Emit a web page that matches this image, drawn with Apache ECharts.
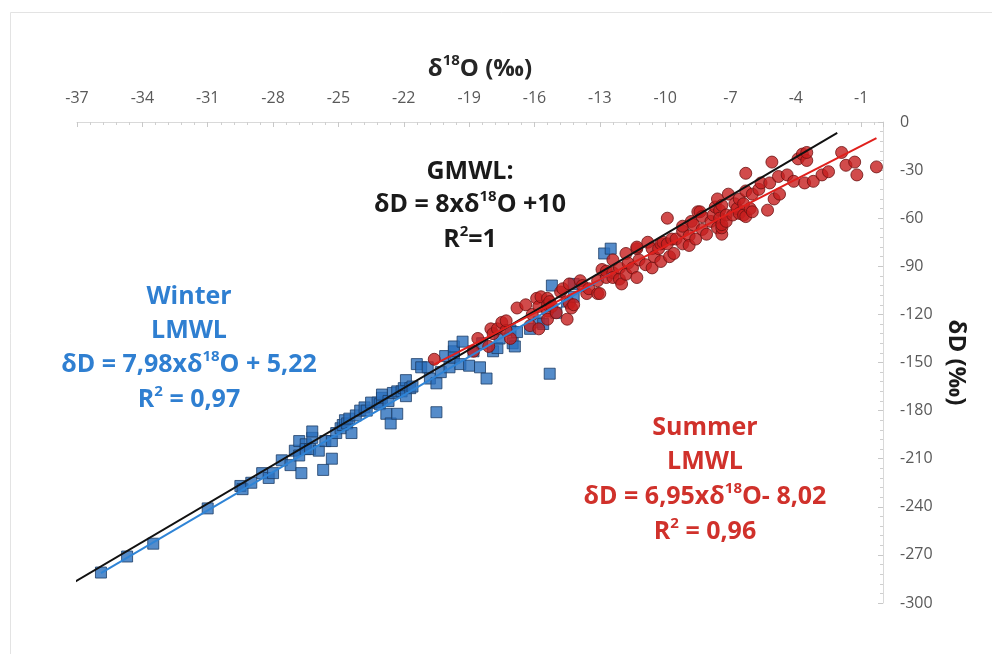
<!DOCTYPE html>
<html><head><meta charset="utf-8">
<script src="https://cdn.jsdelivr.net/npm/echarts@6/dist/echarts.min.js"></script>
<style>html,body{margin:0;padding:0;background:#fff}#c{width:992px;height:654px}</style>
</head><body><div id="c"></div>
<script>
// ---- data (δ18O, δD) ----
const winter = [[-35.9,-281],[-34.7,-271],[-33.5,-263],[-31.0,-241],[-29.5,-227],[-29.4,-229],[-29.0,-225],[-28.5,-219],[-28.2,-222],[-28.0,-219],[-27.6,-211],[-27.2,-214],[-27.0,-205],[-26.8,-208],[-26.8,-199],[-26.7,-219],[-26.5,-201],[-26.5,-204],[-26.3,-204],[-26.2,-197],[-26.2,-193],[-25.9,-205],[-25.7,-217],[-25.6,-199],[-25.3,-210],[-25.3,-199],[-25.1,-194],[-24.9,-191],[-24.8,-189],[-24.7,-186],[-24.6,-188],[-24.5,-185],[-24.4,-194],[-24.2,-183],[-24.0,-180],[-23.8,-178],[-23.7,-180],[-23.5,-175],[-23.2,-175],[-23.1,-176],[-23.0,-172],[-23.0,-170],[-22.8,-182],[-22.7,-174],[-22.6,-188],[-22.5,-169],[-22.3,-182],[-22.3,-168],[-22.1,-168],[-22.0,-166],[-21.9,-161],[-21.9,-171],[-21.7,-166],[-21.6,-165],[-21.4,-151],[-21.2,-153],[-20.9,-153],[-20.8,-160],[-20.5,-163],[-20.5,-181],[-20.3,-156],[-20.1,-146],[-19.9,-153],[-19.7,-147],[-19.7,-143],[-19.7,-140],[-19.4,-151],[-19.3,-137],[-19.0,-152],[-18.8,-143],[-18.5,-153],[-18.4,-138],[-18.2,-160],[-17.9,-143],[-17.7,-141],[-17.6,-135],[-17.1,-130],[-17.0,-138],[-16.9,-140],[-16.8,-131],[-16.2,-129],[-15.8,-125],[-15.6,-126],[-15.3,-157],[-15.2,-102],[-15.0,-119],[-14.5,-112],[-14.2,-101],[-14.2,-109],[-12.8,-82],[-12.5,-79]];
const summer = [[-20.6,-148],[-18.8,-143],[-18.6,-135],[-18.1,-140],[-18.0,-129],[-17.9,-132],[-17.7,-129],[-17.5,-125],[-17.3,-130],[-17.3,-124],[-17.1,-135],[-16.8,-116],[-16.4,-114],[-16.2,-127],[-16.1,-120],[-15.9,-110],[-15.8,-115],[-15.8,-129],[-15.7,-109],[-15.4,-110],[-15.4,-118],[-15.4,-123],[-15.4,-114],[-15.3,-112],[-15.2,-115],[-15.0,-119],[-14.8,-106],[-14.7,-104],[-14.5,-123],[-14.4,-113],[-14.4,-101],[-14.3,-116],[-14.2,-114],[-13.9,-99],[-13.8,-102],[-13.6,-107],[-13.5,-104],[-13.1,-99],[-13.1,-107],[-13.0,-107],[-12.9,-92],[-12.7,-97],[-12.7,-93],[-12.4,-94],[-12.4,-86],[-12.4,-97],[-12.1,-98],[-12.1,-91],[-12.0,-101],[-11.8,-95],[-11.8,-82],[-11.7,-88],[-11.5,-91],[-11.3,-97],[-11.3,-79],[-11.3,-78],[-11.2,-86],[-10.9,-89],[-10.8,-75],[-10.6,-91],[-10.6,-79],[-10.5,-84],[-10.3,-79],[-10.2,-87],[-10.2,-76],[-10.1,-75],[-9.9,-60],[-9.9,-76],[-9.8,-84],[-9.7,-73],[-9.6,-82],[-9.5,-73],[-9.2,-68],[-9.2,-76],[-9.2,-65],[-8.9,-71],[-8.9,-77],[-8.8,-62],[-8.7,-64],[-8.6,-73],[-8.5,-56],[-8.4,-56],[-8.3,-67],[-8.3,-59],[-8.1,-70],[-7.9,-62],[-7.8,-58],[-7.7,-53],[-7.6,-48],[-7.6,-66],[-7.5,-55],[-7.5,-60],[-7.4,-70],[-7.4,-66],[-7.4,-64],[-7.4,-52],[-7.2,-58],[-7.2,-62],[-7.1,-45],[-6.9,-58],[-6.8,-51],[-6.7,-54],[-6.6,-48],[-6.6,-57],[-6.4,-58],[-6.4,-51],[-6.3,-32],[-6.3,-43],[-6.3,-59],[-6.1,-54],[-6.0,-45],[-6.0,-56],[-5.7,-42],[-5.6,-38],[-5.3,-55],[-5.2,-38],[-5.1,-25],[-5.0,-48],[-4.8,-34],[-4.75,-45],[-4.4,-33],[-4.1,-37],[-3.9,-23],[-3.7,-20],[-3.6,-38],[-3.5,-24],[-3.5,-19],[-3.2,-37],[-2.8,-33],[-2.5,-31],[-1.9,-19],[-1.7,-27],[-1.3,-25],[-1.2,-33],[-0.3,-28]];
// trend line end points
const gmwlLine = [[-37.1,-286.8],[-2.1,-6.8]];
const winterLine = [[-35.9,-281.3],[-12.5,-94.5]];
const summerLine = [[-20.6,-151.2],[-0.3,-10.1]];
// axes
const xMin = -37, xMax = 0, xStep = 3;
const yMin = -300, yMax = 0, yStep = 30;
const xName = 'δ{s|18}O (‰)';
const yName = 'δD (‰)';
// annotation texts
const gmwlText = ['GMWL:', 'δD = 8xδ{s|18}O +10', 'R{s|2}=1'];
const winterText = ['Winter', 'LMWL', 'δD = 7,98xδ{s|18}O + 5,22', 'R{s|2} = 0,97'];
const summerText = ['Summer', 'LMWL', 'δD = 6,95xδ{s|18}O- 8,02', 'R{s|2} = 0,96'];

const FONT = 'Open Sans';
function txt(t, x, y, color) {
  return {type:'text', x:x, y:y, silent:true, style:{
    text:t, fill:color, font:'bold 25px "'+FONT+'"', lineHeight:32, align:'center', verticalAlign:'middle',
    rich:{s:{fontSize:15, fontWeight:'bold', fontFamily:FONT, fill:color, verticalAlign:'top', lineHeight:18}}
  }};
}
const blue = '#2f7fd1', red = '#d0312b', black = '#1a1a1a';
const graphics = [
  {type:'rect', silent:true, shape:{x:10.5,y:12.5,width:1200,height:900}, style:{fill:'none', stroke:'#e3e3e3', lineWidth:1}}
];
[172,205,240].forEach((y,i)=>graphics.push(txt(gmwlText[i], 470, y, black)));
[297,331,365,400].forEach((y,i)=>graphics.push(txt(winterText[i], 189, y, blue)));
[428,462,497,532].forEach((y,i)=>graphics.push(txt(summerText[i], 705, y, red)));

const chart = echarts.init(document.getElementById('c'));
const axisCommon = {
  type:'value', axisLine:{show:true, onZero:false, lineStyle:{color:'#d9d9d9', width:1}},
  axisTick:{show:true, inside:true, length:5, lineStyle:{color:'#c8c8c8'}},
  minorTick:{show:true, splitNumber:5, length:3, lineStyle:{color:'#cfcfcf'}},
  splitLine:{show:false}, minorSplitLine:{show:false}
};
chart.setOption({
  animation:false,
  backgroundColor:'#fff',
  grid:{left:77, right:109, top:122, bottom:51, containLabel:false},
  xAxis:Object.assign({}, axisCommon, {
    position:'top', min:xMin, max:xMax, interval:xStep,
    axisLabel:{color:'#595959', fontSize:16, margin:16, showMaxLabel:false, fontFamily:FONT},
    name:xName, nameLocation:'middle', nameGap:36,
    nameTextStyle:{color:'#262626', fontSize:24, fontWeight:'bold', fontFamily:FONT, lineHeight:32,
      rich:{s:{fontSize:15, fontWeight:'bold', fontFamily:FONT, color:'#262626', verticalAlign:'top', lineHeight:18}}}
  }),
  yAxis:Object.assign({}, axisCommon, {
    position:'right', min:yMin, max:yMax, interval:yStep,
    axisLabel:{color:'#595959', fontSize:16, margin:17, fontFamily:FONT},
    name:yName, nameLocation:'middle', nameRotate:-90, nameGap:60,
    nameTextStyle:{color:'#1a1a1a', fontSize:24, fontWeight:'bold', fontFamily:FONT}
  }),
  graphic:graphics,
  series:[
    {type:'scatter', name:'Winter', data:winter, symbol:'rect', symbolSize:11,
     itemStyle:{color:'#2a6fbd', borderColor:'#1d3d66', borderWidth:1}, z:2},
    {type:'scatter', name:'Summer', data:summer, symbol:'circle', symbolSize:12,
     itemStyle:{color:'#c61e1e', borderColor:'#6d1212', borderWidth:1}, z:3},
    {type:'line', name:'GMWL', data:gmwlLine, symbol:'none', lineStyle:{color:'#111', width:2}, z:4},
    {type:'line', name:'Winter LMWL', data:winterLine, symbol:'none', lineStyle:{color:'#2f84d6', width:2}, z:4},
    {type:'line', name:'Summer LMWL', data:summerLine, symbol:'none', lineStyle:{color:'#e0201c', width:2}, z:5}
  ]
});
</script></body></html>
